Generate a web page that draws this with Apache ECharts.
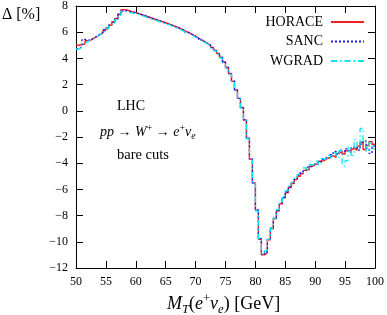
<!DOCTYPE html>
<html><head><meta charset="utf-8">
<script src="https://cdn.jsdelivr.net/npm/echarts@6/dist/echarts.min.js"></script>
<style>html,body{margin:0;padding:0;background:#fff}#c{width:387px;height:315px}</style>
</head><body><div id="c"></div>
<script>
// Histogram bins: 0.5 GeV wide, starting at 50 GeV
const binStart = 50;
const binWidth = 0.5;
const seriesNames = ['HORACE', 'SANC', 'WGRAD'];
const horace = [
 5.00, 5.05, 5.10, 5.35, 5.40, 5.55, 5.65, 5.80, 5.95, 6.15,
 6.35, 6.55, 6.80, 7.05, 7.35, 7.72, 7.70, 7.62, 7.55, 7.50,
 7.42, 7.35, 7.26, 7.18, 7.10, 7.03, 6.95, 6.86, 6.80, 6.72,
 6.64, 6.56, 6.47, 6.38, 6.28, 6.16, 6.05, 5.95, 5.82, 5.70,
 5.55, 5.42, 5.28, 5.15, 5.00, 4.84, 4.62, 4.38, 4.08, 3.72,
 3.30, 2.85, 2.25, 1.60, 0.95, 0.25, -0.70, -2.10, -3.70, -5.50,
 -7.60, -9.80, -11.00, -10.85, -9.85, -9.00, -8.25, -7.65, -7.10, -6.65,
 -6.25, -5.85, -5.55, -5.25, -5.00, -4.80, -4.55, -4.45, -4.25, -4.10,
 -4.05, -3.85, -3.80, -3.65, -3.55, -3.40, -3.55, -3.25, -3.10, -3.30,
 -3.05, -3.00, -2.85, -3.00, -2.70, -2.40, -2.95, -2.65, -2.35, -2.55
];
const sanc = [
 4.75, 4.90, 5.45, 5.35, 5.45, 5.55, 5.70, 5.85, 6.00, 6.20,
 6.30, 6.55, 6.75, 7.00, 7.45, 7.62, 7.65, 7.60, 7.52, 7.48,
 7.42, 7.33, 7.28, 7.17, 7.12, 7.00, 6.95, 6.88, 6.78, 6.70,
 6.62, 6.55, 6.45, 6.36, 6.26, 6.18, 6.02, 5.94, 5.80, 5.68,
 5.56, 5.40, 5.30, 5.14, 5.02, 4.82, 4.64, 4.36, 4.10, 3.70,
 3.32, 2.82, 2.28, 1.58, 0.98, 0.22, -0.68, -2.12, -3.66, -5.52,
 -7.56, -9.76, -10.95, -10.75, -9.80, -8.95, -8.20, -7.60, -7.05, -6.60,
 -6.20, -5.80, -5.50, -5.20, -4.90, -4.65, -4.50, -4.30, -4.20, -4.05,
 -3.90, -3.95, -3.70, -3.55, -3.60, -3.35, -3.10, -3.30, -3.00, -3.10,
 -2.90, -3.15, -2.80, -2.75, -3.00, -2.55, -2.30, -2.85, -3.25, -2.70
];
const wgrad = [
 4.70, 4.85, 5.15, 5.30, 5.40, 5.50, 5.65, 5.80, 5.95, 6.10,
 6.30, 6.50, 6.70, 6.95, 7.30, 7.60, 7.55, 7.50, 7.45, 7.40,
 7.35, 7.25, 7.20, 7.10, 7.02, 6.95, 6.88, 6.80, 6.72, 6.65,
 6.58, 6.48, 6.40, 6.30, 6.20, 6.08, 5.98, 5.86, 5.75, 5.62,
 5.50, 5.36, 5.24, 5.10, 4.95, 4.78, 4.58, 4.32, 4.02, 3.66,
 3.24, 2.78, 2.20, 1.52, 0.90, 0.18, -0.75, -2.15, -3.75, -5.55,
 -7.65, -9.85, -10.90, -10.70, -9.80, -8.95, -8.20, -7.55, -6.95, -6.50,
 -6.10, -5.75, -5.45, -5.10, -4.85, -4.70, -4.35, -4.55, -4.10, -4.20,
 -3.85, -4.10, -3.65, -3.80, -3.40, -3.60, -3.20, -3.55, -3.05, -4.20,
 -3.80, -2.75, -3.40, -2.20, -2.90, -1.35, -2.40, -3.10, -2.45, -2.90
];
const xRange = [50, 100, 5];
const yRange = [-12, 8, 2];

function toSteps(vals) {
  const pts = vals.map((v, i) => [binStart + i * binWidth, v]);
  pts.push([binStart + vals.length * binWidth, vals[vals.length - 1]]);
  return pts;
}
const serif = 'Liberation Serif';
const minus = v => String(v).replace('-', '\u2212');
const frameLine = { show: true, onZero: false, lineStyle: { color: '#000', width: 1 } };
const tick = { show: true, inside: true, length: 7, lineStyle: { color: '#000', width: 1 } };

// Simple math-text layout: tokens [text, kind]; kinds n (upright), i (italic), sup, subi
const measureCtx = document.createElement('canvas').getContext('2d');
function fontOf(kind, s) {
  const size = (kind === 'sup' || kind === 'sub' || kind === 'subi') ? s * 0.7 : s;
  const ital = (kind === 'i' || kind === 'subi') ? 'italic ' : '';
  return { font: ital + size.toFixed(1) + 'px "' + serif + '"', size };
}
function mathText(x0, baseline, s, tokens) {
  const els = [];
  let x = x0;
  tokens.forEach(([t, kind]) => {
    const f = fontOf(kind, s);
    measureCtx.font = f.font;
    const w = measureCtx.measureText(t).width;
    let b = baseline;
    if (kind === 'sup') b = baseline - 0.42 * s;
    if (kind === 'sub' || kind === 'subi') b = baseline + 0.18 * s;
    els.push({ type: 'text', x: x, y: b - 0.3 * f.size, silent: true,
      style: { text: t, font: f.font, fill: '#000', align: 'left', verticalAlign: 'middle' } });
    x += w;
  });
  return els;
}

const chart = echarts.init(document.getElementById('c'), null, { renderer: 'canvas' });
const graphics = [
  { type: 'text', x: 2, y: 15, style: { text: '\u0394 [%]', font: '16px "Liberation Serif"', fill: '#000', verticalAlign: 'middle' } },
  { type: 'text', x: 117, y: 106, style: { text: 'LHC', font: '14px "Liberation Serif"', fill: '#000', verticalAlign: 'middle' } },
  { type: 'text', x: 117, y: 155, style: { text: 'bare cuts', font: '14.5px "Liberation Serif"', fill: '#000', verticalAlign: 'middle' } }
].concat(
  mathText(100, 137, 14, [['pp', 'i'], [' \u2192 ', 'n'], ['W', 'i'], ['+', 'sup'], [' \u2192 ', 'n'], ['e', 'i'], ['+', 'sup'], ['\u03bd', 'i'], ['e', 'subi']]),
  mathText(167, 310, 18, [['M', 'i'], ['T', 'subi'], ['(', 'n'], ['e', 'i'], ['+', 'sup'], ['\u03bd', 'i'], ['e', 'subi'], [') [GeV]', 'n']])
);

chart.setOption({
  animation: false,
  backgroundColor: '#fff',
  grid: { left: 76, right: 10, top: 5, bottom: 47, containLabel: false },
  legend: {
    data: seriesNames, orient: 'vertical', right: 22, top: 15, align: 'right', padding: 0,
    itemWidth: 33, itemHeight: 14, itemGap: 5.5,
    itemStyle: { opacity: 0 },
    textStyle: { fontFamily: serif, fontSize: 14, color: '#000', padding: [0, 3, 0, 0] }
  },
  xAxis: [
    { type: 'value', min: xRange[0], max: xRange[1], interval: xRange[2], position: 'bottom',
      axisLine: frameLine, axisTick: tick, splitLine: { show: false },
      axisLabel: { fontFamily: serif, fontSize: 12, color: '#000', margin: 8 } },
    { type: 'value', min: xRange[0], max: xRange[1], interval: xRange[2], position: 'top',
      axisLine: frameLine, axisTick: tick, splitLine: { show: false }, axisLabel: { show: false } }
  ],
  yAxis: [
    { type: 'value', min: yRange[0], max: yRange[1], interval: yRange[2], position: 'left',
      axisLine: frameLine, axisTick: tick, splitLine: { show: false },
      axisLabel: { fontFamily: serif, fontSize: 12, color: '#000', margin: 8, formatter: minus } },
    { type: 'value', min: yRange[0], max: yRange[1], interval: yRange[2], position: 'right',
      axisLine: frameLine, axisTick: tick, splitLine: { show: false }, axisLabel: { show: false } }
  ],
  series: [
    { name: 'HORACE', type: 'line', step: 'end', symbol: 'none', data: toSteps(horace),
      lineStyle: { color: '#f02020', width: 1.4, type: 'solid' }, itemStyle: { color: '#f02020' } },
    { name: 'SANC', type: 'line', step: 'end', symbol: 'none', data: toSteps(sanc),
      lineStyle: { color: '#1a1af0', width: 1.3, type: [2, 2] }, itemStyle: { color: '#1a1af0' } },
    { name: 'WGRAD', type: 'line', step: 'end', symbol: 'none', data: toSteps(wgrad),
      lineStyle: { color: '#00e8f0', width: 1.3, type: [6, 3, 1.5, 3] }, itemStyle: { color: '#00e8f0' } }
  ],
  graphic: graphics
});
</script></body></html>
